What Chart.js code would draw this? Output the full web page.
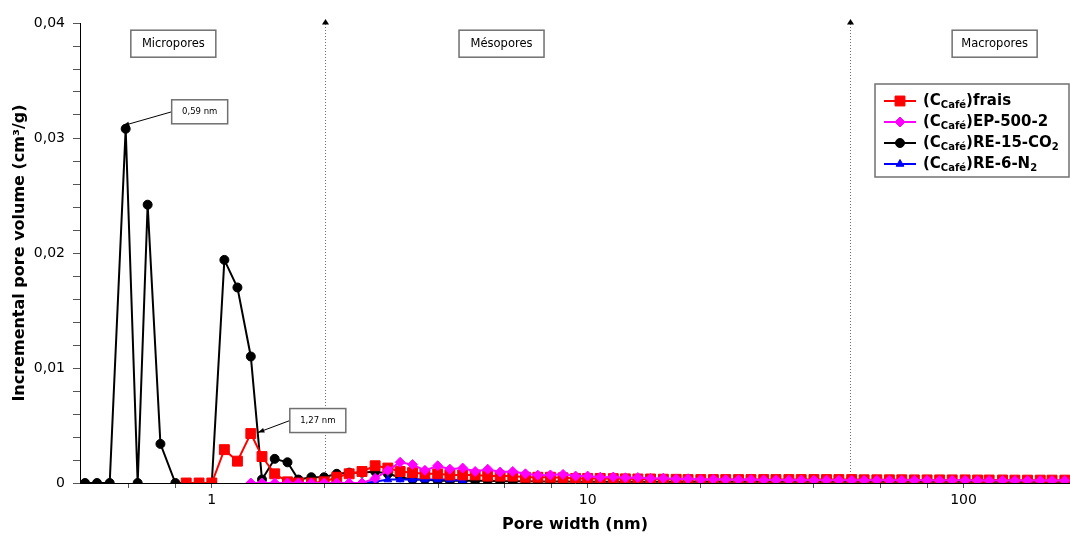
<!DOCTYPE html>
<html lang="fr">
<head>
  <meta charset="UTF-8">
  <title>Distribution de taille de pores</title>
  <style>
    html, body { margin: 0; padding: 0; background: #fff; }
    .chart-box { position: relative; width: 1070px; height: 536px; }
  </style>
</head>
<body>
  <div class="chart-box"><canvas id="psd" width="1070" height="536"></canvas></div>
  <script src="https://cdn.jsdelivr.net/npm/chart.js@4.4.1/dist/chart.umd.min.js"></script>
  <script>
    // pore width (nm), shared by every series
    const poreWidth = [
      0.46, 0.495, 0.535, 0.59, 0.635, 0.675, 0.73, 0.80, 0.855, 0.925,
      1.0, 1.08, 1.17, 1.27, 1.36, 1.47, 1.59, 1.70, 1.84, 1.99,
      2.15, 2.32, 2.51, 2.72, 2.94, 3.17, 3.42, 3.69, 3.99, 4.30,
      4.65, 5.02, 5.42, 5.85, 6.32, 6.83, 7.37, 7.96, 8.60, 9.29,
      10.0, 10.8, 11.7, 12.6, 13.6, 14.7, 15.9, 17.2, 18.5, 20.0,
      21.6, 23.3, 25.2, 27.2, 29.4, 31.7, 34.3, 37.0, 40.0, 43.2,
      46.6, 50.4, 54.4, 58.8, 63.5, 68.5, 74.0, 80.0, 86.4, 93.3,
      101, 109, 117, 127, 137, 148, 160, 172, 186
    ];

    // incremental pore volume (cm3/g)
    const frais = [
      null, null, null, null, null, null, null, null, 0, 0,
      0, 0.0029, 0.0019, 0.0043, 0.0023, 0.0008, 0.0001, 0, 0, 0.0001,
      0.0005, 0.0008, 0.0010, 0.0015, 0.0013, 0.0010, 0.0009, 0.0008, 0.0008, 0.0007,
      0.0007, 0.0007, 0.0006, 0.0006, 0.0006, 0.0005, 0.0005, 0.0005, 0.00045, 0.0004,
      0.0004, 0.0004, 0.00038, 0.00036, 0.00035, 0.00035, 0.00033, 0.00032, 0.0003, 0.0003,
      0.0003, 0.0003, 0.0003, 0.0003, 0.0003, 0.0003, 0.0003, 0.0003, 0.0003, 0.0003,
      0.0003, 0.0003, 0.00028, 0.00028, 0.00028, 0.00028, 0.00027, 0.00027, 0.00027, 0.00027,
      0.00027, 0.00026, 0.00026, 0.00026, 0.00025, 0.00025, 0.00025, 0.00025, 0.00025
    ];
    const ep500 = [
      null, null, null, null, null, null, null, null, null, null,
      null, null, null, 0, 0, 0, 0, 0, 0, 0,
      0, 0, 0, 0.0004, 0.0011, 0.0018, 0.0016, 0.0011, 0.0015, 0.0012,
      0.0013, 0.0010, 0.0012, 0.00095, 0.0010, 0.0008, 0.00068, 0.0007, 0.00075, 0.0006,
      0.0006, 0.0005, 0.00052, 0.00045, 0.00047, 0.0004, 0.00042, 0.00035, 0.00037, 0.0003,
      0.00033, 0.0003, 0.00028, 0.0003, 0.00027, 0.00027, 0.00025, 0.00026, 0.00024, 0.00025,
      0.00024, 0.00024, 0.00023, 0.00024, 0.00023, 0.00023, 0.00024, 0.00023, 0.00022, 0.00023,
      0.00023, 0.00022, 0.00022, 0.00022, 0.00021, 0.00021, 0.00021, 0.00021, 0.00021
    ];
    const re15co2 = [
      0, 0, 0, 0.0308, 0, 0.0242, 0.0034, 0, 0, 0,
      0, 0.0194, 0.0170, 0.0110, 0.0003, 0.0021, 0.0018, 0.0003, 0.0005, 0.0005,
      0.0008, 0.0009, 0.0009, 0.0010, 0.0008, 0.0005, 0.0003, 0.0003, 0.0002, 0.0002,
      0.0002, 0.0002, 0.0002, 0.00015, 0.00015, 0.00015, 0.00012, 0.00012, 0.00012, 0.0001,
      0.0001, 0.0001, 0.0001, 0.0001, 0.0001, 0.0001, 0.0001, 0.0001, 0.0001, 0.0001,
      0.0001, 0.0001, 0.0001, 0.0001, 0.0001, 0.0001, 0.0001, 0.0001, 0.0001, 0.0001,
      0.0001, 0.0001, 0.0001, 0.0001, 0.0001, 0.0001, 0.0001, 0.0001, 0.0001, 0.0001,
      0.0001, 0.0001, 0.0001, 0.0001, 0.0001, 0.0001, 0.0001, 0.0001, 0.0001
    ];
    const re6n2 = [
      null, null, null, null, null, null, null, null, null, null,
      null, null, null, null, null, null, null, null, null, null,
      null, null, 0, 0.0001, 0.0003, 0.0003, 0.0003, 0.0003, 0.0003, 0.0003,
      0.0002
    ];

    const seriesLabels = [
      '(C<sub>Café</sub>)frais',
      '(C<sub>Café</sub>)EP-500-2',
      '(C<sub>Café</sub>)RE-15-CO<sub>2</sub>',
      '(C<sub>Café</sub>)RE-6-N<sub>2</sub>'
    ];
    const xTicks = [0.6, 0.8, 1, 2, 4, 6, 8, 10, 20, 40, 60, 80, 100];
    const xLabelled = [1, 10, 100];
    const yTicks = [0, 0.002, 0.004, 0.006, 0.008, 0.01, 0.012, 0.014, 0.016, 0.018, 0.02,
      0.022, 0.024, 0.026, 0.028, 0.03, 0.032, 0.034, 0.036, 0.038, 0.04];
    const poreLimits = [2, 50];
    const poreClasses = ['Micropores', 'Mésopores', 'Macropores'];

    const FONT = '"DejaVu Sans", Verdana, sans-serif';

    function toPoints(values) {
      return poreWidth.map((x, i) => ({ x: x, y: values[i] }))
        .filter(p => p.y !== null && p.y !== undefined);
    }
    function plain(markup) {
      return markup.replace(/<\/?sub>/g, '');
    }

    const styles = [
      { color: '#ff0000', pointStyle: 'rect', radius: 7, order: 1 },
      { color: '#ff00ff', pointStyle: 'rectRot', radius: 5, order: 0 },
      { color: '#000000', pointStyle: 'circle', radius: 4.5, order: 3 },
      { color: '#0000ff', pointStyle: 'triangle', radius: 4.5, order: 2 }
    ];
    const series = [frais, ep500, re15co2, re6n2];

    const datasets = series.map((values, i) => ({
      label: plain(seriesLabels[i]),
      data: toPoints(values),
      borderColor: styles[i].color,
      backgroundColor: styles[i].color,
      pointBackgroundColor: styles[i].color,
      pointBorderColor: styles[i].color,
      pointStyle: styles[i].pointStyle,
      pointRadius: styles[i].radius,
      pointBorderWidth: 1,
      borderWidth: 2,
      tension: 0,
      order: styles[i].order
    }));

    // rich text with <sub> parts
    function drawRich(ctx, x, y, markup, size) {
      const parts = markup.split(/(<sub>.*?<\/sub>)/).filter(Boolean);
      parts.forEach(p => {
        const sub = p.startsWith('<sub>');
        const text = sub ? p.slice(5, -6) : p;
        ctx.font = 'bold ' + (sub ? Math.round(size * 0.66) : size) + 'px ' + FONT;
        ctx.fillText(text, x, sub ? y + size * 0.28 : y);
        x += ctx.measureText(text).width;
      });
    }

    function labelBox(ctx, cx, cy, w, h, text, size) {
      ctx.fillStyle = '#fff';
      ctx.fillRect(cx - w / 2, cy - h / 2, w, h);
      ctx.strokeStyle = '#707070';
      ctx.lineWidth = 1.5;
      ctx.strokeRect(cx - w / 2, cy - h / 2, w, h);
      ctx.fillStyle = '#000';
      ctx.font = size + 'px ' + FONT;
      ctx.textAlign = 'center';
      ctx.textBaseline = 'middle';
      ctx.fillText(text, cx, cy);
    }

    function arrow(ctx, x0, y0, x1, y1) {
      ctx.strokeStyle = '#000';
      ctx.lineWidth = 1;
      ctx.beginPath();
      ctx.moveTo(x0, y0);
      ctx.lineTo(x1, y1);
      ctx.stroke();
      const a = Math.atan2(y1 - y0, x1 - x0);
      ctx.fillStyle = '#000';
      ctx.beginPath();
      ctx.moveTo(x1, y1);
      ctx.lineTo(x1 - 7 * Math.cos(a - 0.35), y1 - 7 * Math.sin(a - 0.35));
      ctx.lineTo(x1 - 7 * Math.cos(a + 0.35), y1 - 7 * Math.sin(a + 0.35));
      ctx.closePath();
      ctx.fill();
    }

    const overlay = {
      id: 'overlay',
      beforeDatasetsDraw(chart) {
        const { ctx, chartArea, scales } = chart;
        ctx.save();
        poreLimits.forEach(v => {
          const px = Math.round(scales.x.getPixelForValue(v)) + 0.5;
          ctx.strokeStyle = '#6e6e6e';
          ctx.lineWidth = 1;
          ctx.setLineDash([1, 2]);
          ctx.beginPath();
          ctx.moveTo(px, chartArea.top + 1);
          ctx.lineTo(px, chartArea.bottom);
          ctx.stroke();
          ctx.setLineDash([]);
          ctx.fillStyle = '#000';
          ctx.beginPath();
          ctx.moveTo(px, chartArea.top - 4);
          ctx.lineTo(px - 3.5, chartArea.top + 1.5);
          ctx.lineTo(px + 3.5, chartArea.top + 1.5);
          ctx.closePath();
          ctx.fill();
          ctx.beginPath();
          ctx.moveTo(px, chartArea.bottom);
          ctx.lineTo(px - 4.5, chartArea.bottom - 5.5);
          ctx.lineTo(px + 4.5, chartArea.bottom - 5.5);
          ctx.closePath();
          ctx.fill();
        });
        ctx.restore();
      },
      afterDatasetsDraw(chart) {
        const { ctx, scales } = chart;
        const x = scales.x, y = scales.y;
        ctx.save();

        // pore class boxes
        const classPos = [0.79, 5.9, 121];
        poreClasses.forEach((name, i) => {
          labelBox(ctx, x.getPixelForValue(classPos[i]), y.getPixelForValue(0.0382), 85, 27, name, 11.5);
        });

        // peak callouts
        const callouts = [
          { x: 0.59, y: 0.0308, text: '0,59 nm', dx: 74, dy: -17, tip: [-3, -3] },
          { x: 1.27, y: 0.0043, text: '1,27 nm', dx: 67, dy: -13, tip: [7, -1] }
        ];
        callouts.forEach(c => {
          const px = x.getPixelForValue(c.x), py = y.getPixelForValue(c.y);
          const bx = px + c.dx, by = py + c.dy;
          arrow(ctx, bx - 28, by, px + c.tip[0], py + c.tip[1]);
          labelBox(ctx, bx, by, 56, 24, c.text, 8.5);
        });

        // legend
        const lx = 875, ly = 84, lw = 194, lh = 93;
        ctx.fillStyle = '#fff';
        ctx.fillRect(lx, ly, lw, lh);
        ctx.strokeStyle = '#707070';
        ctx.lineWidth = 1.5;
        ctx.strokeRect(lx, ly, lw, lh);
        ctx.textAlign = 'left';
        ctx.textBaseline = 'middle';
        seriesLabels.forEach((markup, i) => {
          const ry = ly + 17 + i * 21;
          const st = styles[i];
          ctx.strokeStyle = st.color;
          ctx.fillStyle = st.color;
          ctx.lineWidth = 2;
          ctx.beginPath();
          ctx.moveTo(884, ry);
          ctx.lineTo(916, ry);
          ctx.stroke();
          ctx.lineWidth = 1;
          Chart.helpers.drawPoint(ctx, {
            pointStyle: st.pointStyle, rotation: 0, radius: st.radius, borderWidth: 1
          }, 900, ry);
          ctx.fillStyle = '#000';
          drawRich(ctx, 923, ry, markup, 15);
        });
        ctx.restore();
      }
    };

    new Chart(document.getElementById('psd'), {
      type: 'line',
      data: { datasets: datasets },
      options: {
        responsive: false,
        animation: false,
        devicePixelRatio: 1,
        layout: { autoPadding: false, padding: { top: 23, right: 0, left: 0, bottom: 0 } },
        plugins: { legend: { display: false }, tooltip: { enabled: false } },
        scales: {
          x: {
            type: 'logarithmic',
            min: 0.446,
            max: 192,
            afterFit(scale) { scale.height = 53; },
            afterBuildTicks(scale) { scale.ticks = xTicks.map(v => ({ value: v })); },
            ticks: {
              autoSkip: false,
              maxRotation: 0,
              padding: 4,
              color: '#000',
              font: { family: FONT, size: 14 },
              callback: (v) => xLabelled.includes(v) ? String(v) : ''
            },
            grid: { drawOnChartArea: false, tickLength: 5, color: '#555' },
            border: { color: '#000', width: 1 },
            title: {
              display: true,
              text: 'Pore width (nm)',
              color: '#000',
              font: { family: FONT, size: 16, weight: 'bold' },
              padding: { top: 0, bottom: 2 }
            }
          },
          y: {
            min: 0,
            max: 0.04,
            afterFit(scale) { scale.width = 80; },
            afterBuildTicks(scale) { scale.ticks = yTicks.map(v => ({ value: v })); },
            ticks: {
              autoSkip: false,
              padding: 8,
              color: '#000',
              font: { family: FONT, size: 14 },
              callback: (v) => {
                const c = Math.round(v * 1000);
                if (c % 10 !== 0) return '';
                return c === 0 ? '0' : (v.toFixed(2)).replace('.', ',');
              }
            },
            grid: { drawOnChartArea: false, tickLength: 7, color: '#555' },
            border: { color: '#000', width: 1 },
            title: {
              display: true,
              text: 'Incremental pore volume (cm³/g)',
              color: '#000',
              font: { family: FONT, size: 16, weight: 'bold' },
              padding: { top: 10, bottom: 0 }
            }
          }
        }
      },
      plugins: [overlay]
    });
  </script>
</body>
</html>
